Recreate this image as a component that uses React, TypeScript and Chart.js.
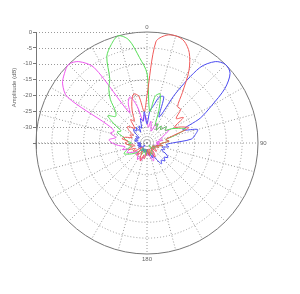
import React, { useEffect, useRef } from "react";
import { Chart, registerables } from "chart.js";

Chart.register(...registerables);

// Angles (degrees, clockwise from top) every 5°
const ANGLES: number[] = Array.from({ length: 72 }, (_, i) => i * 5);
const ANGLE_LABELS: string[] = ["0", "90", "180"];
const ANGLE_LABEL_AT: number[] = [0, 90, 180];
const Y_TICKS: number[] = [0, -5, -10, -15, -20, -25, -30, -35];
const AXIS_TITLE = "Amplitude (dB)";

const RED: number[] = [
  -20, -3, -0.5, 0, -0.8, -3.5, -8.5, -15.5, -20, -20, -23, -21,
  -25, -23, -21, -27, -29, -28, -30, -31, -30, -32, -31, -32,
  -33, -32, -31, -32, -33, -31, -30, -31, -33, -32, -31, -33,
  -32, -31, -30, -31, -29, -30, -32, -31, -30, -32, -33, -31,
  -30, -31, -29, -30, -31, -29, -28, -29, -27, -28, -30, -29,
  -30, -28, -27, -28, -29, -26, -27, -24, -21, -19, -20, -25,
];
const GREEN: number[] = [
  -13, -25, -20, -19, -24, -29, -28, -30, -28, -29, -27, -28,
  -26, -24, -22, -26, -29, -28, -30, -31, -30, -32, -31, -33,
  -32, -33, -32, -33, -34, -33, -32, -31, -32, -31, -32, -33,
  -32, -31, -32, -33, -32, -31, -32, -33, -32, -31, -30, -29,
  -28, -27, -28, -29, -30, -29, -30, -29, -28, -27, -25, -26,
  -23, -20, -22, -21, -17, -14, -11.5, -5, -2, 0, -2, -8,
];
const BLUE: number[] = [
  -29, -25, -23, -20, -19.5, -26, -17, -6, -1.5, 0, -0.8, -5,
  -11.5, -16.5, -23, -18.5, -19.5, -21, -27, -29, -28, -30, -29, -30,
  -28, -27, -28, -27, -28, -27, -29, -31, -30, -32, -31, -32,
  -33, -32, -33, -32, -33, -32, -33, -32, -33, -34, -33, -32,
  -33, -32, -33, -32, -33, -32, -33, -32, -31, -32, -31, -32,
  -31, -32, -30, -29, -30, -29, -31, -29, -30, -27, -28, -25,
];
const MAGENTA: number[] = [
  -28, -30, -28, -30, -31, -28, -29, -30, -28, -29, -27, -28,
  -27, -29, -30, -31, -30, -32, -31, -32, -31, -32, -33, -32,
  -33, -32, -33, -32, -33, -32, -31, -30, -29, -30, -31, -32,
  -31, -32, -31, -30, -29, -30, -29, -30, -31, -30, -31, -30,
  -29, -28, -29, -27, -28, -26, -24, -23, -25, -23, -24, -21,
  -6, -2.5, -1, 0, -1.5, -6, -24, -21, -19.5, -23, -28, -26,
];

const FONT = "'Liberation Sans', Arial, sans-serif";
const TEXT = "#666666";
const GRID = "#9a9a9a";
const OUTER = "#777777";

const polarDecor = {
  id: "polarDecor",
  beforeDatasetsDraw(chart: any) {
    const r = chart.scales.r;
    const y = chart.scales.y;
    const ctx = chart.ctx as CanvasRenderingContext2D;
    ctx.save();
    ctx.lineWidth = 1;
    ctx.strokeStyle = GRID;
    ctx.setLineDash([1, 2]);
    for (const v of Y_TICKS) {
      const py = Math.round(y.getPixelForValue(v)) + 0.5;
      ctx.beginPath();
      ctx.moveTo(y.right, py);
      ctx.lineTo(r.xCenter, py);
      ctx.stroke();
    }
    ctx.setLineDash([]);
    ctx.strokeStyle = OUTER;
    const top = y.getPixelForValue(Y_TICKS[0]);
    const bot = y.getPixelForValue(Y_TICKS[Y_TICKS.length - 1]);
    ctx.beginPath();
    ctx.moveTo(y.right + 0.5, top);
    ctx.lineTo(y.right + 0.5, bot + 6);
    ctx.stroke();

    ctx.fillStyle = TEXT;
    ctx.font = `6px ${FONT}`;
    // axis title
    ctx.save();
    ctx.translate(14, (top + bot) / 2);
    ctx.rotate(-Math.PI / 2);
    ctx.textAlign = "center";
    ctx.textBaseline = "middle";
    ctx.fillText(AXIS_TITLE, 0, 0);
    ctx.restore();

    // angle labels
    ANGLE_LABELS.forEach((lab, k) => {
      const idx = ANGLES.indexOf(ANGLE_LABEL_AT[k]);
      const p = r.getPointPosition(idx, r.drawingArea + 2);
      const a = ANGLE_LABEL_AT[k];
      if (a === 0) {
        ctx.textAlign = "center";
        ctx.textBaseline = "bottom";
      } else if (a === 180) {
        ctx.textAlign = "center";
        ctx.textBaseline = "top";
      } else {
        ctx.textAlign = "left";
        ctx.textBaseline = "middle";
      }
      ctx.fillText(lab, p.x, p.y);
    });
    ctx.restore();
  },
};

export default function App() {
  const ref = useRef<HTMLCanvasElement | null>(null);
  useEffect(() => {
    document.body.style.margin = "0";
    const mk = (label: string, data: number[], color: string) => ({
      label,
      data,
      borderColor: color,
      backgroundColor: color,
      borderWidth: 1,
      pointRadius: 0,
      fill: false,
      tension: 0.3,
    });
    const chart = new Chart(ref.current as HTMLCanvasElement, {
      type: "radar",
      data: {
        labels: ANGLES.map(String),
        datasets: [
          mk("Red", RED, "#f05a5a"),
          mk("Green", GREEN, "#55dd55"),
          mk("Blue", BLUE, "#4a4af0"),
          mk("Magenta", MAGENTA, "#ee55ee"),
        ],
      },
      options: {
        responsive: false,
        animation: false,
        layout: { padding: { left: 0, right: 42, top: 32, bottom: 40 } },
        plugins: { legend: { display: false }, tooltip: { enabled: false } },
        scales: {
          r: {
            min: -35,
            max: 0,
            ticks: { display: false, stepSize: 5 },
            pointLabels: { display: false },
            grid: {
              circular: true,
              lineWidth: 1,
              color: (c: any) => (c.tick && c.tick.value === 0 ? OUTER : GRID),
            },
            border: {
              dash: (c: any) => (c.tick && c.tick.value === 0 ? [] : [1, 2]),
            } as any,
            angleLines: {
              display: true,
              color: GRID,
              lineWidth: (c: any) => (c.index % 3 === 0 ? 1 : 0),
              borderDash: [1, 2],
            },
          },
          y: {
            type: "linear",
            position: "left",
            min: -70,
            max: 0,
            afterFit: (s: any) => {
              s.width = 36;
            },
            ticks: {
              stepSize: 5,
              autoSkip: false,
              padding: 1,
              color: TEXT,
              font: { size: 6, family: FONT },
              callback: (v: any) => (v >= -30 ? String(v) : v === -35 ? "" : null),
            },
            grid: {
              drawOnChartArea: false,
              drawTicks: true,
              tickLength: 3,
              color: (c: any) => (c.tick && c.tick.value >= -35 ? OUTER : "rgba(0,0,0,0)"),
            },
            border: { display: false },
          },
        } as any,
      },
      plugins: [polarDecor],
    });
    return () => chart.destroy();
  }, []);
  return (
    <div style={{ width: 300, height: 294 }}>
      <canvas ref={ref} width={300} height={294} />
    </div>
  );
}
